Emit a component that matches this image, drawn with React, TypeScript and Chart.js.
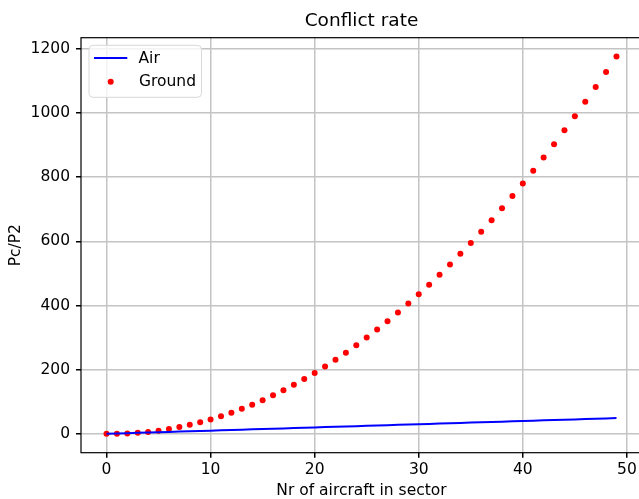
import React, { useEffect, useRef } from "react";
import { Chart, registerables } from "chart.js";

Chart.register(...registerables);

const xValues = [0,1,2,3,4,5,6,7,8,9,10,11,12,13,14,15,16,17,18,19,20,21,22,23,24,25,26,27,28,29,30,31,32,33,34,35,36,37,38,39,40,41,42,43,44,45,46,47,48,49];
const airValues = [0,1,2,3,4,5,6,7,8,9,10,11,12,13,14,15,16,17,18,19,20,21,22,23,24,25,26,27,28,29,30,31,32,33,34,35,36,37,38,39,40,41,42,43,44,45,46,47,48,49];
const groundValues = [0,0,1,3,6,10,15,21,28,36,45,55,66,78,91,105,120,136,153,171,190,210,231,253,276,300,325,351,378,406,435,465,496,528,561,595,630,666,703,741,780,820,861,903,946,990,1035,1081,1128,1176];
const xTicks = [0, 10, 20, 30, 40, 50];
const yTicks = [0, 200, 400, 600, 800, 1000, 1200];
const titleText = "Conflict rate";
const xLabel = "Nr of aircraft in sector";
const yLabel = "Pc/P2";
const seriesNames = ["Air", "Ground"];

const FONT = "'DejaVu Sans', sans-serif";
const FS = 15.5;

export default function App() {
  const ref = useRef<HTMLCanvasElement | null>(null);
  useEffect(() => {
    document.body.style.margin = "0";
    document.body.style.overflow = "hidden";
    const canvas = ref.current!;
    const overlay = {
      id: "overlay",
      afterDraw(chart: any) {
        const ctx = chart.ctx;
        const a = chart.chartArea;
        ctx.save();
        // spines
        ctx.strokeStyle = "#000";
        ctx.lineWidth = 1.2;
        ctx.strokeRect(a.left, a.top, a.right - a.left, a.bottom - a.top);
        // title
        const cx = (a.left + a.right) / 2;
        ctx.fillStyle = "#000";
        ctx.textAlign = "center";
        ctx.textBaseline = "middle";
        ctx.font = `18.5px ${FONT}`;
        ctx.fillText(titleText, cx, 21);
        ctx.font = `${FS}px ${FONT}`;
        ctx.fillText(xLabel, cx, 491);
        ctx.save();
        ctx.translate(16, (a.top + a.bottom) / 2);
        ctx.rotate(-Math.PI / 2);
        ctx.fillText(yLabel, 0, 0);
        ctx.restore();
        // legend
        const lx = 89, ly = 45.3, lw = 112.5, lh = 52, r = 4;
        ctx.beginPath();
        ctx.moveTo(lx + r, ly);
        ctx.arcTo(lx + lw, ly, lx + lw, ly + lh, r);
        ctx.arcTo(lx + lw, ly + lh, lx, ly + lh, r);
        ctx.arcTo(lx, ly + lh, lx, ly, r);
        ctx.arcTo(lx, ly, lx + lw, ly, r);
        ctx.closePath();
        ctx.fillStyle = "rgba(255,255,255,0.8)";
        ctx.fill();
        ctx.strokeStyle = "#d8d8d8";
        ctx.lineWidth = 1;
        ctx.stroke();
        ctx.strokeStyle = "#0000ff";
        ctx.lineWidth = 2;
        ctx.beginPath();
        ctx.moveTo(94, 58);
        ctx.lineTo(127.3, 58);
        ctx.stroke();
        ctx.fillStyle = "#ff0000";
        ctx.beginPath();
        ctx.arc(110.7, 81.7, 3, 0, Math.PI * 2);
        ctx.fill();
        ctx.fillStyle = "#000";
        ctx.textAlign = "left";
        ctx.font = `${FS}px ${FONT}`;
        ctx.fillText(seriesNames[0], 138.5, 58.5);
        ctx.fillText(seriesNames[1], 139, 81.5);
        ctx.restore();
      },
    };
    const chart = new Chart(canvas, {
      type: "line",
      data: {
        datasets: [
          {
            label: seriesNames[0],
            data: xValues.map((x, i) => ({ x, y: airValues[i] })),
            borderColor: "#0000ff",
            borderWidth: 2,
            pointRadius: 0,
            showLine: true,
            fill: false,
          },
          {
            label: seriesNames[1],
            data: xValues.map((x, i) => ({ x, y: groundValues[i] })),
            borderColor: "#ff0000",
            backgroundColor: "#ff0000",
            pointRadius: 3,
            pointBorderWidth: 0,
            showLine: false,
          },
        ],
      },
      plugins: [overlay],
      options: {
        animation: false,
        responsive: false,
        layout: { padding: { top: 37.7, right: 18, left: 0, bottom: 0 } },
        plugins: { legend: { display: false }, title: { display: false }, tooltip: { enabled: false } },
        scales: {
          x: {
            type: "linear",
            min: -2.45,
            max: 51.45,
            afterBuildTicks: (s: any) => { s.ticks = xTicks.map((v) => ({ value: v })); },
            afterFit: (s: any) => { s.height = 499 - 452.7; },
            grid: { color: "#c4c4c4", lineWidth: 1.5, tickColor: "#000", tickLength: 5, drawTicks: true },
            border: { display: false },
            ticks: { color: "#000", font: { family: FONT, size: FS }, padding: 3, maxRotation: 0, callback: (v: any) => String(v) },
          },
          y: {
            type: "linear",
            min: -58.8,
            max: 1234.8,
            afterBuildTicks: (s: any) => { s.ticks = yTicks.map((v) => ({ value: v })); },
            afterFit: (s: any) => { s.width = 81; },
            grid: { color: "#c4c4c4", lineWidth: 1.5, tickColor: "#000", tickLength: 5, drawTicks: true },
            border: { display: false },
            ticks: { color: "#000", font: { family: FONT, size: FS }, padding: 6, callback: (v: any) => String(v) },
          },
        },
      },
    } as any);
    return () => chart.destroy();
  }, []);
  return (
    <div style={{ position: "absolute", left: 0, top: 0, width: 660, height: 499, background: "#fff" }}>
      <canvas ref={ref} width={660} height={499} style={{ display: "block", width: 660, height: 499 }} />
    </div>
  );
}
